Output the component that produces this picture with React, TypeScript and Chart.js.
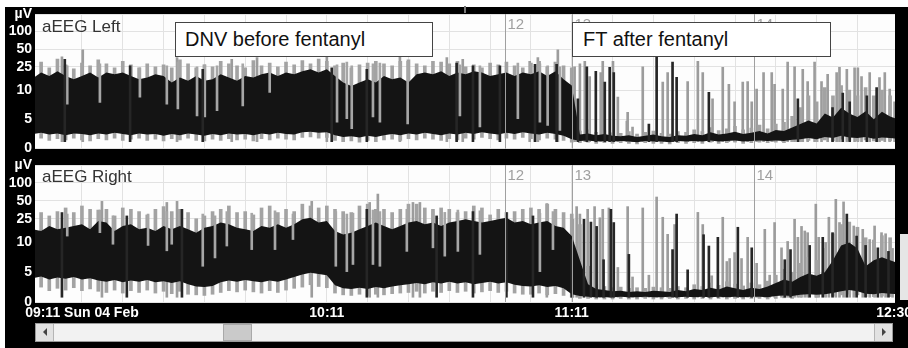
import React, { useEffect, useRef } from 'react';
import { Chart, registerables } from 'chart.js';

Chart.register(...registerables);

// ---------- time axis (minutes after 09:11) ----------
const T0 = -12; // first sample time
const STEP = 2; // minutes between envelope samples
const X_MIN = -11.5;
const X_MAX = 199.2;
const timeTickMinutes = [0, 60, 120, 199];
const timeTickLabels = ['09:11 Sun 04 Feb', '10:11', '11:11', '12:30'];

// ---------- amplitude axis (µV, linear 0-10, log 10-200) ----------
const Y_TOP = 200;
const yTickValues = [0, 5, 10, 25, 50, 100, Y_TOP];
const yTickLabels = ['0', '5', '10', '25', '50', '100', 'µV'];

// ---------- event markers ----------
const markerMinutes = [103.6, 120, 164.6];
const markerLabels = ['12', '13', '14'];

// ---------- aEEG Left envelopes (µV) ----------
const leftGrayLow = [
  1.6, 1.8, 1.4, 1.7, 1.5, 1.8, 1.5, 1.3, 1.7, 1.5,
  1.8, 1.4, 1.6, 1.8, 1.4, 1.6, 1.3, 1.7, 1.5, 1.8,
  1.4, 1.3, 1.6, 1.4, 1.7, 1.5, 1.6, 1.3, 1.7, 1.5,
  1.8, 1.6, 1.5, 1.9, 2.0, 1.8, 1.9, 1.4, 1.2, 1.3,
  1.1, 1.4, 1.2, 1.5, 1.6, 1.4, 1.7, 1.5, 1.8, 1.6,
  1.4, 1.7, 1.5, 1.8, 1.6, 1.9, 1.7, 1.5, 1.8, 1.6,
  1.9, 1.7, 1.5, 1.8, 1.6, 1.4, 1.1, 1.0, 1.1, 0.9,
  1.0, 0.9, 1.0, 0.9, 0.8, 1.0, 0.9, 0.9, 0.8, 1.0,
  0.9, 1.0, 0.9, 1.1, 0.9, 1.0, 1.1, 0.9, 1.0, 1.1,
  1.0, 1.1, 1.0, 1.2, 1.2, 1.4, 1.2, 1.5, 1.3, 1.6,
  1.4, 1.3, 1.5, 1.3, 1.4, 1.3, 1.2,
];
const leftLow = [
  2.5, 2.7, 2.4, 2.6, 2.3, 2.6, 2.5, 2.3, 2.6, 2.4,
  2.7, 2.5, 2.3, 2.6, 2.4, 2.5, 2.2, 2.5, 2.3, 2.6,
  2.4, 2.2, 2.5, 2.3, 2.6, 2.4, 2.5, 2.3, 2.6, 2.4,
  2.7, 2.5, 2.4, 2.8, 2.9, 2.7, 2.8, 2.3, 2.0, 2.1,
  1.9, 2.2, 2.0, 2.3, 2.5, 2.3, 2.6, 2.4, 2.7, 2.5,
  2.3, 2.6, 2.4, 2.7, 2.5, 2.8, 2.6, 2.4, 2.7, 2.5,
  2.8, 2.6, 2.4, 2.7, 2.5, 2.2, 1.6, 1.3, 1.4, 1.2,
  1.3, 1.2, 1.3, 1.2, 1.1, 1.3, 1.2, 1.2, 1.1, 1.3,
  1.2, 1.3, 1.2, 1.4, 1.2, 1.3, 1.4, 1.2, 1.3, 1.4,
  1.3, 1.4, 1.3, 1.5, 1.6, 1.8, 1.6, 2.0, 1.8, 2.2,
  1.9, 1.8, 2.0, 1.7, 1.9, 1.8, 1.7,
];
const leftHigh = [
  16, 20, 17.5, 21, 17.5, 15.3, 17.5, 20, 16.4, 20,
  18.7, 20, 17.5, 15.3, 16.4, 18.7, 17.5, 13.5, 16.4, 14.4,
  17.5, 14.4, 15.3, 18.7, 16.4, 14.4, 17.5, 16.4, 18.7, 20,
  17.5, 20, 18.7, 21, 22.7, 20, 22.7, 17.5, 13.5, 11.8,
  13.5, 15.3, 13.5, 17.5, 15.3, 16.4, 13.5, 18.7, 20, 18.7,
  21, 17.5, 20, 18.7, 21, 20, 17.5, 18.7, 20, 17.5,
  20, 18.7, 21, 17.5, 21, 15.3, 12, 2.4, 2.6, 2.3,
  2.5, 2.2, 2.1, 2.3, 2.0, 2.2, 2.4, 2.1, 2.0, 2.3,
  2.2, 2.5, 2.3, 2.8, 2.4, 2.6, 2.9, 2.5, 2.7, 3.0,
  2.6, 3.2, 3.0, 3.6, 4.2, 4.8, 4.3, 6.0, 5.3, 7.0,
  6.0, 5.4, 6.4, 5.0, 6.3, 5.5, 5.0,
];
const leftPeak = [
  26, 30, 24, 34, 27, 23, 29, 26, 33, 28,
  24, 31, 27, 24, 28, 25, 27, 24, 33, 28,
  24, 27, 25, 31, 28, 26, 24, 32, 26, 29,
  25, 30, 27, 32, 28, 34, 31, 26, 29, 24,
  27, 29, 31, 28, 26, 31, 33, 28, 26, 31,
  30, 28, 31, 25, 27, 24, 29, 27, 30, 26,
  24, 29, 31, 25, 30, 26, 24, 3.0, 3.2, 2.8,
  3.1, 2.7, 2.6, 2.9, 2.5, 2.8, 3.0, 2.6, 2.5, 2.9,
  2.8, 3.2, 2.9, 3.6, 3.1, 3.4, 3.8, 3.2, 3.5, 4.0,
  3.4, 4.2, 4.5, 5.5, 7.0, 9.0, 8.0, 11, 9.0, 12,
  10, 9.0, 11, 9.0, 10, 9.0, 8.0,
];
// [minute, top µV]
const leftGraySpikes = [
  [-4.9, 37], [0.2, 49], [23.3, 36], [36.7, 33.5], [42.9, 36], [60, 37], [77.9, 37],
  [89.4, 36], [93.3, 33.5], [109.7, 31], [111.7, 36], [116.6, 49],
  [120.7, 25], [122.0, 28], [123.2, 31], [124.4, 17], [127.1, 20], [127.6, 31], [130.1, 31],
  [131.3, 8.8], [133.5, 4.7], [133.7, 6.2], [134.9, 3.7], [137.4, 25], [142.3, 13.7],
  [143.5, 20], [148.4, 14], [150.9, 31], [152.1, 20], [154.5, 8.5], [157.0, 24.5],
  [158.5, 12.6], [159.9, 8], [161.9, 13.7], [163.1, 14], [164.1, 8], [165.3, 10.4],
  [167.0, 20], [169.0, 20], [169.7, 12.6], [171.7, 10.4], [172.9, 30], [174.6, 25],
  [176.6, 22.7], [177.8, 14], [179.5, 30], [181.2, 14], [182.7, 18.6], [184.9, 20],
  [185.6, 24.5], [187.4, 22.7], [189.3, 24], [190.1, 24], [191.0, 17], [193.0, 20],
  [195.4, 16.4], [196.7, 20], [197.9, 10.4], [199.1, 8],
];
const leftDarkSpikes = [
  [-4.2, 33.5], [11.8, 26], [29.6, 22.7], [61.2, 24], [69.8, 22.7], [91.8, 29],
  [95.8, 26], [102.4, 26], [111, 27.6], [116.3, 27.6],
  [121.5, 8.5], [123.7, 25], [125.9, 21], [128.1, 13.7], [129.3, 24.5], [130.3, 20],
  [138.9, 4.2], [140.8, 38], [144.7, 30], [145.7, 16.6], [153.6, 9.6], [175.4, 8.5],
  [183.9, 7], [186.4, 9.5], [188.1, 8], [192.3, 9], [194.7, 11],
];
// [minute, low µV, high µV] light strokes through the band
const leftDips = [
  [-3.6, 7.6, 26], [4.4, 7.9, 28], [14.2, 8.8, 24], [20.8, 7.6, 26], [23.5, 6.8, 30],
  [28.2, 5.6, 25], [30.1, 5.4, 27], [33.1, 6.5, 26], [39.4, 7.3, 28], [46, 9.6, 27],
  [62.5, 4.5, 27], [64.9, 5.1, 30], [66.1, 3.4, 26], [71.3, 5.4, 28], [73, 4.5, 29],
  [79.8, 4.2, 31], [92.6, 5.6, 27], [97.5, 3.7, 26], [106.8, 5.1, 29], [112.2, 4.5, 28],
  [114.1, 3.95, 26], [117.1, 3.1, 25],
];

// ---------- aEEG Right envelopes (µV) ----------
const rightGrayLow = [
  2.2, 2.5, 1.9, 2.3, 2.0, 2.4, 1.9, 2.2, 1.8, 1.6,
  2.0, 1.5, 1.9, 1.6, 2.0, 1.5, 1.8, 1.4, 1.8, 1.3,
  1.2, 1.1, 1.3, 1.6, 1.9, 1.7, 2.0, 1.7, 1.5, 1.9,
  1.6, 2.0, 2.3, 2.5, 2.9, 2.6, 2.4, 1.5, 1.2, 1.1,
  1.3, 1.1, 1.3, 1.2, 1.4, 1.5, 1.6, 1.8, 1.5, 1.8,
  1.6, 1.9, 1.6, 1.8, 1.5, 1.7, 1.9, 1.6, 1.8, 1.5,
  1.3, 1.3, 1.5, 1.2, 1.4, 1.1, 0.8, 0.6, 0.6, 0.5,
  0.5, 0.5, 0.6, 0.5, 0.5, 0.6, 0.5, 0.5, 0.6, 0.5,
  0.6, 0.5, 0.6, 0.5, 0.6, 0.5, 0.6, 0.5, 0.6, 0.6,
  0.5, 0.6, 0.7, 0.6, 0.8, 0.9, 0.8, 0.9, 1.0, 1.2,
  1.3, 1.2, 0.9, 0.9, 1.0, 0.9, 0.9,
];
const rightLow = [
  4.0, 4.3, 3.8, 4.1, 3.9, 4.2, 3.8, 4.0, 3.6, 3.4,
  3.7, 3.3, 3.6, 3.4, 3.7, 3.3, 3.5, 3.2, 3.5, 3.0,
  2.6, 2.5, 2.7, 3.3, 3.6, 3.4, 3.7, 3.5, 3.3, 3.6,
  3.4, 3.8, 4.2, 4.6, 4.9, 4.7, 4.5, 2.8, 2.3, 2.2,
  2.4, 2.2, 2.5, 2.3, 2.6, 2.8, 3.0, 3.2, 3.0, 3.3,
  3.1, 3.4, 3.1, 3.3, 3.0, 3.2, 3.4, 3.1, 3.3, 2.9,
  2.7, 2.6, 2.8, 2.5, 2.7, 2.3, 1.3, 1.0, 0.9, 0.8,
  0.8, 0.8, 0.9, 0.8, 0.8, 0.9, 0.8, 0.8, 0.9, 0.8,
  0.9, 0.8, 0.9, 0.8, 0.9, 0.8, 0.9, 0.8, 0.9, 0.9,
  0.8, 1.0, 1.1, 1.0, 1.2, 1.3, 1.2, 1.3, 1.5, 1.8,
  2.0, 1.8, 1.4, 1.3, 1.5, 1.4, 1.3,
];
const rightHigh = [
  16.6, 15.6, 18.9, 16.6, 17.7, 18.9, 20.2, 16.6, 23, 21.6,
  15.6, 18.9, 20.2, 16.6, 17.7, 15.6, 18.9, 16.6, 18.9, 16.6,
  14.6, 17.7, 18.9, 21.6, 20.2, 17.7, 16.6, 15.6, 18.9, 17.7,
  20.2, 17.7, 20.2, 24.5, 26, 21.6, 23, 15.6, 13.6, 14.6,
  16.6, 18.9, 21.6, 18.9, 16.6, 18.9, 21.6, 23, 20.2, 21.6,
  18.9, 21.6, 23, 24.5, 23, 21.6, 23, 24.5, 26, 21.6,
  23, 20.2, 21.6, 23, 18.9, 17.7, 12.8, 7.0, 3.0, 2.2,
  2.0, 1.8, 1.9, 1.7, 1.8, 1.7, 1.9, 1.8, 1.7, 2.0,
  1.8, 2.2, 2.0, 2.4, 2.1, 2.6, 2.3, 2.0, 2.4, 2.2,
  2.6, 3.2, 3.8, 3.4, 4.2, 4.8, 4.4, 5.0, 7.0, 9.5,
  10, 9.0, 6.0, 7.0, 7.5, 7.0, 6.5,
];
const rightPeak = [
  24.5, 31.8, 27.9, 33, 38, 31.8, 41, 36, 35, 36,
  27.9, 38, 36, 33, 29, 36, 40, 33, 36, 31.8,
  25, 27.9, 33, 36, 41, 31.8, 33, 29, 38, 41,
  31.8, 36, 33, 44, 41, 38, 41, 36, 33, 31.8,
  41, 44, 36, 36, 31.8, 36, 44, 44, 38, 36,
  38, 36, 31.8, 33, 41, 38, 29, 36, 31.8, 33,
  36, 38, 36, 44, 36, 31.8, 30, 20, 6, 3.0,
  2.6, 2.4, 2.5, 2.3, 2.4, 2.3, 2.5, 2.4, 2.3, 2.6,
  2.4, 2.9, 2.6, 3.2, 2.8, 3.4, 3.0, 2.7, 3.2, 2.9,
  3.5, 4.5, 5.5, 5.0, 6.5, 7.5, 7.0, 9.0, 14, 20,
  22, 18, 12, 11, 13, 12, 10,
];
const rightGraySpikes = [
  [4.9, 49], [20.8, 47], [23.3, 49], [56.3, 49], [70.5, 47], [72.5, 65], [81.1, 47],
  [82.8, 47], [113.9, 45],
  [120.3, 24.5], [121.2, 40], [122.0, 30], [123.9, 36], [125.6, 40], [126.9, 26],
  [127.6, 36], [129.1, 38], [131.3, 5.8], [133.7, 40], [134.9, 4.2], [137.4, 38],
  [138.9, 4.5], [140.8, 58], [142.3, 26.5], [143.5, 13.7], [145.2, 20], [150.9, 32],
  [152.1, 20], [154.3, 4.4], [157.0, 26.5], [158.0, 6.8], [158.7, 7.3], [159.9, 8.3],
  [161.6, 7.3], [163.1, 12.2], [165.3, 6.5], [167.3, 16.6], [168.5, 4.5], [169.7, 21.6],
  [171.4, 9.1], [172.9, 10.4], [174.6, 24.5], [175.4, 12.2], [176.3, 18.6], [177.1, 15.6],
  [177.8, 14.6], [179.8, 44], [180.5, 12.2], [182.2, 10], [183.0, 26.5], [184.7, 53],
  [185.6, 21.6], [186.6, 48], [188.1, 16.6], [189.1, 18.9], [191.3, 16.6], [193.0, 11.2],
  [194.2, 18.9], [195.9, 14.6], [196.9, 14], [198.6, 9.0],
];
const rightDarkSpikes = [
  [-4.9, 31.8], [11, 27.9], [24.5, 36], [69.8, 36], [86.9, 27.9], [95.8, 33],
  [104, 31.8], [110.5, 27.9],
  [120.0, 11.2], [123.0, 24.5], [124.7, 22], [126.1, 18.6], [127.8, 7.1], [129.6, 36],
  [130.3, 21.6], [134.0, 8], [144.7, 8.8], [145.7, 30], [148.4, 5.4], [152.3, 13.5],
  [153.6, 9.4], [155.8, 12.2], [160.7, 18], [164.1, 9.1], [172.2, 7.1], [173.6, 8.8],
  [178.3, 9.5], [181.5, 12.2], [183.9, 14.6], [187.4, 30], [189.8, 12.8], [192.0, 9.5],
  [195.0, 9.1], [197.6, 8.5],
];
const rightDips = [
  [-3.6, 12.8, 30], [4.4, 14.6, 35], [7.6, 9.7, 28], [16.2, 9.5, 30], [20.8, 8.6, 33],
  [22, 9.7, 31], [29.6, 6.0, 30], [32.6, 7.4, 28], [35.5, 9.4, 33], [41.6, 8.8, 31],
  [47.3, 8.8, 34], [51.7, 11.2, 30], [62.2, 6.0, 33], [64.9, 5.1, 30], [66.4, 6.3, 31],
  [71.3, 6.3, 35], [73, 6.0, 33], [79.6, 8.5, 36], [86, 9.1, 33], [88.9, 7.7, 32],
  [92.1, 8.5, 35], [97.5, 8.0, 34], [112.2, 5.1, 31], [115.4, 8.8, 33],
];

const FONT = '"Liberation Sans", Arial, Helvetica, sans-serif';
const BAND = '#141414';
const FRINGE = '#a3a3a3';
const SPIKE_GRAY = '#9c9c9c';
const SPIKE_DARK = '#262626';
const DIP_GRAY = '#a6a6a6';
const GRID = '#e2e2e2';
const MARKER = '#a0a0a0';

// aEEG amplitude transform: linear below 10 µV, logarithmic above
const f = (v: number) => (v <= 10 ? v / 10 : 1 + Math.log10(v / 10));

const panelDeco = {
  id: 'panelDeco',
  beforeDraw(chart: any) {
    const { ctx, chartArea: a } = chart;
    ctx.save();
    ctx.fillStyle = '#fdfdfd';
    ctx.fillRect(a.left, a.top, a.right - a.left, a.bottom - a.top);
    ctx.restore();
  },
  afterDatasetsDraw(chart: any) {
    const { ctx, chartArea: a, scales } = chart;
    const xs = scales.x;
    ctx.save();
    ctx.strokeStyle = MARKER;
    ctx.fillStyle = MARKER;
    ctx.lineWidth = 1;
    ctx.font = `15px ${FONT}`;
    ctx.textBaseline = 'top';
    markerMinutes.forEach((m, i) => {
      const px = Math.round(xs.getPixelForValue(m)) + 0.5;
      ctx.beginPath();
      ctx.moveTo(px, a.top);
      ctx.lineTo(px, a.bottom);
      ctx.stroke();
      ctx.fillText(markerLabels[i], px + 2, a.top + 3);
    });
    ctx.restore();
  },
};

type Panel = {
  gl: number[]; lo: number[]; hi: number[]; pk: number[];
  gray: number[][]; dark: number[][]; dips: number[][]; base: number;
};

const leftPanel: Panel = {
  gl: leftGrayLow, lo: leftLow, hi: leftHigh, pk: leftPeak,
  gray: leftGraySpikes, dark: leftDarkSpikes, dips: leftDips, base: 1.2,
};
const rightPanel: Panel = {
  gl: rightGrayLow, lo: rightLow, hi: rightHigh, pk: rightPeak,
  gray: rightGraySpikes, dark: rightDarkSpikes, dips: rightDips, base: 0.8,
};

function buildConfig(p: Panel, showTime: boolean, padTop: number, padBottom: number): any {
  const tAt = (i: number) => T0 + i * STEP;
  const pts = (vals: number[]) => vals.map((v, i) => ({ x: tAt(i), y: f(v) }));
  const area = (vals: number[], fill: any, color: string, order: number) => ({
    type: 'line', data: pts(vals), fill, backgroundColor: color,
    borderColor: 'rgba(0,0,0,0)', borderWidth: 1, pointRadius: 0, pointHoverRadius: 0,
    tension: 0, order,
  });
  const bars = (list: number[][], color: string, order: number, thick = 2) => ({
    type: 'bar',
    data: list.map((s) => ({ x: s[0], y: s.length > 2 ? [f(s[1]), f(s[2])] : [f(p.base), f(s[1])] })),
    backgroundColor: color, barThickness: thick, grouped: false, borderWidth: 0, order,
  });
  // envelope comb: one gray stroke per sample from the low fringe to the peak
  const comb = {
    type: 'bar',
    data: p.pk.map((v, i) => ({ x: tAt(i), y: [f(p.gl[i]), f(v)] })),
    backgroundColor: FRINGE, barThickness: 3, grouped: false, borderWidth: 0, order: 48,
  };
  const gridMinutes = Array.from({ length: 20 }, (_, i) => i * 10);
  const scales: any = {
    x: {
      type: 'linear', min: X_MIN, max: X_MAX, position: 'bottom', offset: false,
      ticks: { display: false },
      grid: { color: GRID, drawTicks: false, offset: false },
      border: { display: false },
      afterBuildTicks: (s: any) => { s.ticks = gridMinutes.map((v) => ({ value: v })); },
      afterFit: (s: any) => { s.height = 0; s.paddingLeft = 0; s.paddingRight = 0; },
    },
    y: {
      type: 'linear', min: 0, max: f(Y_TOP), position: 'left',
      grid: { color: GRID, drawTicks: false },
      border: { display: false },
      ticks: {
        color: '#ffffff', padding: 3, autoSkip: false,
        font: { family: FONT, size: 14, weight: 'bold' },
        callback: (_v: any, i: number) => yTickLabels[i],
      },
      afterBuildTicks: (s: any) => { s.ticks = yTickValues.map((v) => ({ value: f(v) })); },
      afterFit: (s: any) => { s.width = 35; },
    },
  };
  if (showTime) {
    scales.xt = {
      type: 'linear', min: X_MIN, max: X_MAX, position: 'bottom', offset: false,
      grid: { display: false, drawTicks: false, offset: false },
      border: { display: false },
      ticks: {
        color: '#ffffff', padding: 3, autoSkip: false, maxRotation: 0, minRotation: 0,
        font: { family: FONT, size: 14, weight: 'bold' },
        callback: (_v: any, i: number) => timeTickLabels[i],
      },
      afterBuildTicks: (s: any) => { s.ticks = timeTickMinutes.map((v) => ({ value: v })); },
      afterFit: (s: any) => { s.height = 23; s.paddingLeft = 0; s.paddingRight = 0; },
    };
  }
  return {
    type: 'line',
    data: {
      datasets: [
        area(p.lo, false, 'rgba(0,0,0,0)', 41),
        area(p.hi, '-1', BAND, 35),
        comb,
        bars(p.gray, SPIKE_GRAY, 50),
        bars(p.dips, DIP_GRAY, 20),
        bars(p.dark, SPIKE_DARK, 10),
      ],
    },
    options: {
      animation: false,
      responsive: false,
      devicePixelRatio: 1,
      events: [],
      layout: { padding: { top: padTop, bottom: padBottom, left: 0, right: 13 } },
      plugins: { legend: { display: false }, tooltip: { enabled: false } },
      scales,
    },
    plugins: [panelDeco],
  };
}

const abs = (s: React.CSSProperties): React.CSSProperties => ({ position: 'absolute', boxSizing: 'border-box', ...s });

export default function App() {
  const c1 = useRef<HTMLCanvasElement>(null);
  const c2 = useRef<HTMLCanvasElement>(null);

  useEffect(() => {
    const ch1 = new Chart(c1.current as HTMLCanvasElement, buildConfig(leftPanel, false, 14, 10));
    const ch2 = new Chart(c2.current as HTMLCanvasElement, buildConfig(rightPanel, true, 15, 3));
    return () => { ch1.destroy(); ch2.destroy(); };
  }, []);

  const boxText: React.CSSProperties = {
    background: '#ffffff', border: '1px solid #444', color: '#111',
    font: `20px ${FONT}`, display: 'flex', alignItems: 'center',
  };

  return (
    <div style={{ position: 'fixed', left: 0, top: 0, width: 908, height: 348, background: '#000', overflow: 'hidden' }}>
      <div style={abs({ left: 0, top: 0, width: 908, height: 7, background: '#fff' })} />
      <div style={abs({ left: 0, top: 0, width: 5, height: 348, background: '#fff' })} />
      <div style={abs({ left: 464, top: 6, width: 2, height: 7, background: '#777' })} />

      <canvas ref={c1} width={908} height={160} style={{ position: 'absolute', left: 0, top: 0, width: 908, height: 160 }} />
      <canvas ref={c2} width={908} height={178} style={{ position: 'absolute', left: 0, top: 150, width: 908, height: 178 }} />

      <div style={abs({ left: 42, top: 17, font: `17px ${FONT}`, lineHeight: '19px', color: '#333', whiteSpace: 'nowrap' })}>aEEG Left</div>
      <div style={abs({ left: 42, top: 167, font: `17px ${FONT}`, lineHeight: '19px', color: '#333', whiteSpace: 'nowrap' })}>aEEG Right</div>

      <div style={abs({ ...boxText, left: 175, top: 22, width: 258, height: 35, paddingLeft: 9 })}>DNV before fentanyl</div>
      <div style={abs({ ...boxText, left: 572, top: 22, width: 259, height: 35, paddingLeft: 10 })}>FT after fentanyl</div>

      {/* scrollbar */}
      <div style={abs({ left: 35, top: 323, width: 858, height: 19, background: '#f2f2f2', border: '1px solid #9a9a9a' })} />
      <div style={abs({ left: 36, top: 324, width: 18, height: 17, background: '#e2e2e2', borderRight: '1px solid #b5b5b5' })} />
      <div style={abs({ left: 43, top: 328, width: 0, height: 0, borderTop: '4px solid transparent', borderBottom: '4px solid transparent', borderRight: '4px solid #444' })} />
      <div style={abs({ left: 223, top: 324, width: 29, height: 17, background: '#cacaca', border: '1px solid #a9a9a9' })} />
      <div style={abs({ left: 874, top: 324, width: 18, height: 17, background: '#e2e2e2', borderLeft: '1px solid #b5b5b5' })} />
      <div style={abs({ left: 882, top: 328, width: 0, height: 0, borderTop: '4px solid transparent', borderBottom: '4px solid transparent', borderLeft: '4px solid #444' })} />

      <div style={abs({ left: 900, top: 234, width: 8, height: 66, background: '#e6e6e6' })} />
    </div>
  );
}
